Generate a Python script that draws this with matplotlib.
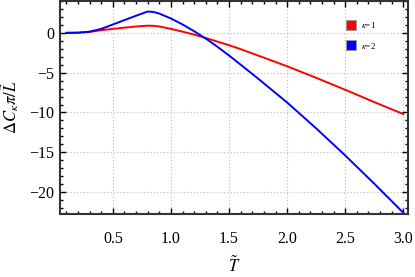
import matplotlib
matplotlib.use("Agg")
import matplotlib.pyplot as plt
from matplotlib.ticker import MultipleLocator
from matplotlib.lines import Line2D

T = [0.1, 0.2, 0.3, 0.4, 0.5, 0.6, 0.7, 0.8, 0.85, 0.9, 1.0, 1.1, 1.2, 1.3, 1.4, 1.5,
     1.6, 1.75, 2.0, 2.25, 2.5, 2.75, 3.0]
kappa1 = [0.0, 0.02, 0.12, 0.33, 0.5, 0.65, 0.8, 0.9, 0.88, 0.8, 0.5, 0.15, -0.22, -0.65,
          -1.1, -1.55, -2.05, -2.85, -4.2, -5.65, -7.15, -8.7, -10.2]
kappa2 = [0.0, 0.02, 0.15, 0.5, 1.05, 1.6, 2.15, 2.68, 2.62, 2.42, 1.8, 1.05, 0.2, -0.72,
          -1.75, -2.85, -4.0, -5.75, -8.75, -12.0, -15.4, -18.95, -22.6]
labels = [r"$\kappa$=1", r"$\kappa$=2"]
colors = ["#ff0000", "#0000ff"]

plt.rcParams["font.family"] = ["Liberation Serif", "DejaVu Serif"]
plt.rcParams["mathtext.fontset"] = "stix"

fig = plt.figure(figsize=(4.15, 2.77), dpi=100)
ax = fig.add_axes([60/415, 1 - 214/277, 348/415, 213/277])

ax.plot(T, kappa1, color=colors[0], lw=1.4)
ax.plot(T, kappa2, color=colors[1], lw=1.4)

ax.set_xlim(0.045, 3.04)
ax.set_ylim(-22.75, 4.0)
ax.xaxis.set_minor_locator(MultipleLocator(0.1))
ax.yaxis.set_minor_locator(MultipleLocator(1))
ax.set_xticks([0.5, 1.0, 1.5, 2.0, 2.5, 3.0])
ax.set_xticklabels(["0.5", "1.0", "1.5", "2.0", "2.5", "3.0"])
ax.set_yticks([-20, -15, -10, -5, 0])
ax.set_yticklabels(["\u221220", "\u221215", "\u221210", "\u22125", "0"])
ax.tick_params(which="both", direction="in", top=True, right=True, labelsize=11.5, width=1.0)
ax.tick_params(axis="x", which="major", pad=12)
ax.tick_params(axis="y", which="major", pad=4)
ax.tick_params(which="major", length=4)
ax.tick_params(which="minor", length=2)
ax.grid(True, which="major", color="#bbbbbb", linestyle=(0, (1, 2)), lw=0.8)
for s in ax.spines.values():
    s.set_linewidth(1.5)
    s.set_color("#333333")

ax.set_xlabel(r"$\tilde{T}$", fontsize=12, labelpad=7)
ax.set_ylabel(r"$\Delta C_\kappa\pi/\tilde{L}$", fontsize=12, labelpad=6)

handles = [Line2D([], [], marker="s", linestyle="none", markersize=7,
                  markerfacecolor=c, markeredgecolor="#999999", markeredgewidth=0.6)
           for c in colors]
ax.legend(handles, labels, loc="upper left", bbox_to_anchor=(0.80, 0.95),
          frameon=False, fontsize=6.5, handletextpad=0.6, labelspacing=1.2,
          handlelength=1.0)

fig.savefig("out.png", dpi=100)
